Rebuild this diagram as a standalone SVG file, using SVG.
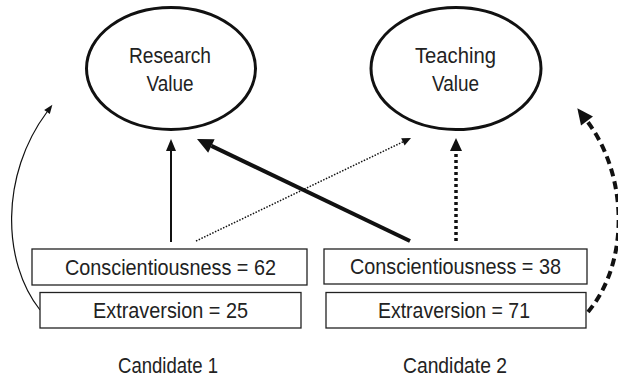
<svg xmlns="http://www.w3.org/2000/svg" width="618" height="381" viewBox="0 0 618 381">
  <style>
    .bg { fill: #ffffff; }
    .oval { fill: #ffffff; stroke: #111111; stroke-width: 3; }
    .box { fill: #ffffff; stroke: #222222; stroke-width: 1.3; }
    .lbl { font-family: "Liberation Sans Narrow", "Liberation Sans", Arial, sans-serif; font-size: 22px; fill: #222222; text-anchor: middle; }
    .conn { fill: none; stroke: #111111; }
    .solid { stroke-width: 2; }
    .thick { stroke-width: 4; }
    .thin { stroke-width: 1.2; }
    .dotthin { stroke-width: 1.5; stroke-dasharray: 1.5 1.5; }
    .dotthick { stroke-width: 3.5; stroke-dasharray: 3 3; }
    .dash { stroke-width: 4; stroke-dasharray: 8 5; }
    .head { fill: #111111; stroke: none; }
  </style>
  <defs>
    <marker id="hSolid" markerUnits="userSpaceOnUse" markerWidth="14" markerHeight="12" refX="0" refY="5" orient="auto" overflow="visible">
      <path class="head" d="M0,0 L12,5 L0,10 Z"/>
    </marker>
    <marker id="hThick" markerUnits="userSpaceOnUse" markerWidth="18" markerHeight="16" refX="0" refY="7.5" orient="auto" overflow="visible">
      <path class="head" d="M0,0 L16,7.5 L0,15 Z"/>
    </marker>
    <marker id="hSmall" markerUnits="userSpaceOnUse" markerWidth="10" markerHeight="9" refX="0" refY="4" orient="auto" overflow="visible">
      <path class="head" d="M0,0 L9,4 L0,8 Z"/>
    </marker>
    <marker id="hDot" markerUnits="userSpaceOnUse" markerWidth="14" markerHeight="13" refX="0" refY="6" orient="auto" overflow="visible">
      <path class="head" d="M0,0 L13,6 L0,12 Z"/>
    </marker>
    <marker id="hDash" markerUnits="userSpaceOnUse" markerWidth="18" markerHeight="16" refX="0" refY="7.5" orient="auto" overflow="visible">
      <path class="head" d="M0,0 L16,7.5 L0,15 Z"/>
    </marker>
    <marker id="hThin" markerUnits="userSpaceOnUse" markerWidth="10" markerHeight="8" refX="0" refY="3.5" orient="auto" overflow="visible">
      <path class="head" d="M0,0 L9,3.5 L0,7 Z"/>
    </marker>
  </defs>
  <rect class="bg" x="0" y="0" width="618" height="381"/>

  <g id="connectors">
    <line class="conn solid" x1="171" y1="242" x2="171" y2="151" marker-end="url(#hSolid)"/>
    <line class="conn thick" x1="410" y1="241" x2="211.4" y2="145.9" marker-end="url(#hThick)"/>
    <line class="conn dotthin" x1="196" y1="241" x2="402.9" y2="141.9" marker-end="url(#hSmall)"/>
    <line class="conn dotthick" x1="456" y1="241" x2="456" y2="151" marker-end="url(#hDot)"/>
    <path class="conn thin" d="M40,310 C2,262 0,175 47,112" marker-end="url(#hThin)"/>
    <path class="conn dash" d="M588,312 C630,262 628,175 587,121" marker-end="url(#hDash)"/>
  </g>

  <g id="research-value">
    <ellipse class="oval" cx="171" cy="68.5" rx="84.5" ry="61"/>
    <text class="lbl" x="170" y="63" textLength="82" lengthAdjust="spacingAndGlyphs">Research</text>
    <text class="lbl" x="170" y="91" textLength="47" lengthAdjust="spacingAndGlyphs">Value</text>
  </g>

  <g id="teaching-value">
    <ellipse class="oval" cx="456" cy="68.5" rx="85" ry="61"/>
    <text class="lbl" x="455.5" y="63" textLength="81" lengthAdjust="spacingAndGlyphs">Teaching</text>
    <text class="lbl" x="455.5" y="91" textLength="47" lengthAdjust="spacingAndGlyphs">Value</text>
  </g>

  <g id="c1-conscientiousness">
    <rect class="box" x="32" y="249" width="275" height="36"/>
    <text class="lbl" x="170.5" y="274.5" textLength="211" lengthAdjust="spacingAndGlyphs">Conscientiousness = 62</text>
  </g>

  <g id="c1-extraversion">
    <rect class="box" x="40" y="292.5" width="261" height="35.5"/>
    <text class="lbl" x="170.5" y="318" textLength="155" lengthAdjust="spacingAndGlyphs">Extraversion = 25</text>
  </g>

  <g id="c2-conscientiousness">
    <rect class="box" x="324" y="249" width="263" height="35"/>
    <text class="lbl" x="455.5" y="273.5" textLength="211" lengthAdjust="spacingAndGlyphs">Conscientiousness = 38</text>
  </g>

  <g id="c2-extraversion">
    <rect class="box" x="326" y="292.5" width="260" height="35.5"/>
    <text class="lbl" x="454" y="318" textLength="152" lengthAdjust="spacingAndGlyphs">Extraversion = 71</text>
  </g>

  <g id="candidate-1">
    <text class="lbl" x="168" y="373" textLength="100" lengthAdjust="spacingAndGlyphs">Candidate 1</text>
  </g>

  <g id="candidate-2">
    <text class="lbl" x="455" y="373" textLength="104" lengthAdjust="spacingAndGlyphs">Candidate 2</text>
  </g>
</svg>
